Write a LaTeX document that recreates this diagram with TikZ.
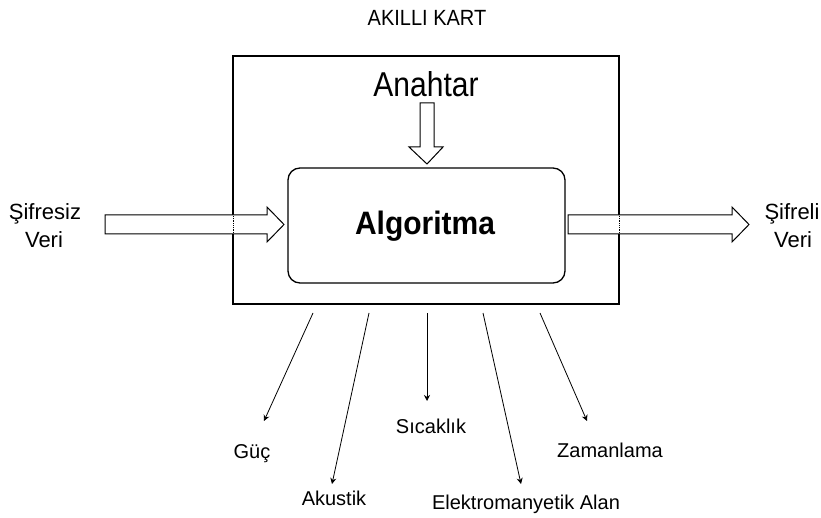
\documentclass[tikz,border=0pt]{standalone}
\usepackage{fontspec}
\setmainfont{Liberation Sans}
\usetikzlibrary{arrows.meta}
\begin{document}
\begin{tikzpicture}[x=1pt,y=-1pt,
  lbl/.style={anchor=base,inner sep=0pt,font=\fontsize{20}{24}\selectfont},
  io/.style={anchor=base,inner sep=0pt,align=center,font=\fontsize{22}{28}\selectfont},
  box/.style={draw,line width=1.3pt},
  blockarrow/.style={draw,fill=white,line width=1pt,line join=miter},
  leak/.style={draw,line width=0.8pt,-{Stealth[length=6pt,width=6pt]}}]
\useasboundingbox (0,0) rectangle (821,518);
% outer card
\draw[box] (233,56) rectangle (619,304);
\node[lbl] (title) at (427,26) {\scalebox{1}[1.1]{AKILLI KART}};
% inner algorithm box
\draw[box,rounded corners=12pt] (288,168) rectangle (565,283);
\node[anchor=base,inner sep=0pt,font=\fontsize{30}{36}\selectfont\bfseries] (alg) at (425,235) {\scalebox{1}[1.08]{Algoritma}};
% key
\node[anchor=base,inner sep=0pt,font=\fontsize{30}{36}\selectfont] (key) at (426,97) {\scalebox{1}[1.15]{Anahtar}};
\draw[blockarrow] (420,103) -- (434,103) -- (434,147) -- (443,147) -- (427,164) -- (409,147) -- (420,147) -- cycle;
% input
\node[io] (in1) at (45,220) {Şifresiz};
\node[io] (in2) at (44,248) {Veri};
\draw[blockarrow] (105,215) -- (267,215) -- (267,207) -- (284,224.5) -- (267,242) -- (267,234) -- (105,234) -- cycle;
\draw[white,line width=1.4pt] (233,216) -- (233,233);
\draw[densely dotted,line width=0.8pt] (233,216) -- (233,233);
% output
\node[io] (out1) at (792,220) {Şifreli};
\node[io] (out2) at (793,248) {Veri};
\draw[blockarrow] (568,215) -- (732,215) -- (732,207) -- (749,224.5) -- (732,242) -- (732,234) -- (568,234) -- cycle;
\draw[white,line width=1.4pt] (619,216) -- (619,233);
\draw[densely dotted,line width=0.8pt] (619,216) -- (619,233);
% side channels
\coordinate (s1) at (313,313); \coordinate (e1) at (264,421);
\coordinate (s2) at (369,313); \coordinate (e2) at (332,484);
\coordinate (s3) at (427,313); \coordinate (e3) at (427,401);
\coordinate (s4) at (483,313); \coordinate (e4) at (521,484);
\coordinate (s5) at (540,313); \coordinate (e5) at (587,421);
\draw[leak] (s1) -- (e1);
\draw[leak] (s2) -- (e2);
\draw[leak] (s3) -- (e3);
\draw[leak] (s4) -- (e4);
\draw[leak] (s5) -- (e5);
\node[lbl] (guc) at (252,458) {Güç};
\node[lbl] (aku) at (334,505) {Akustik};
\node[lbl] (sic) at (431,433) {Sıcaklık};
\node[lbl] (ele) at (526,509) {Elektromanyetik Alan};
\node[lbl] (zam) at (610,457) {Zamanlama};
\end{tikzpicture}
\end{document}
